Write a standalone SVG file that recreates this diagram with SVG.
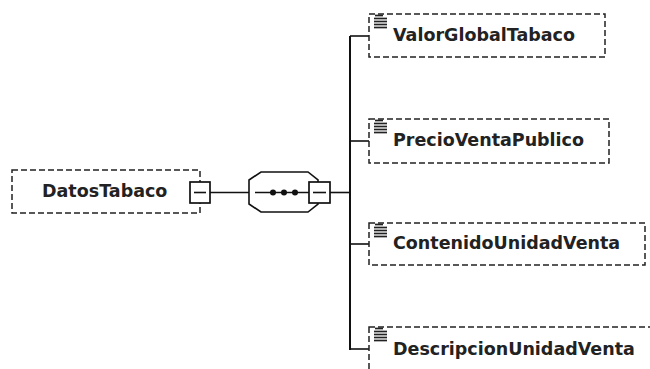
<svg xmlns="http://www.w3.org/2000/svg" width="650" height="369" viewBox="0 0 650 369">
<style>
.box{fill:#fff;stroke:#222;stroke-width:1.5;stroke-dasharray:6 3}
.lbl{font-family:"DejaVu Sans",Verdana,sans-serif;font-weight:bold;font-size:17.5px;fill:#222}
.ln{stroke:#111;stroke-width:1.6;fill:none}
.bus{stroke:#111;stroke-width:2;fill:none}
.mb{fill:#fff;stroke:#111;stroke-width:1.7}
.ico{stroke:#222;stroke-width:1.7}
</style>
<defs>
<g id="icon">
<line class="ico" x1="375" y1="15.5" x2="383" y2="15.5"/>
<line class="ico" x1="374" y1="18.5" x2="387" y2="18.5"/>
<line class="ico" x1="374" y1="21.5" x2="387" y2="21.5"/>
<line class="ico" x1="374" y1="24.5" x2="387" y2="24.5"/>
<line class="ico" x1="374" y1="27.5" x2="387" y2="27.5"/>
</g>
</defs>
<g id="connectors">
<line class="ln" x1="210" y1="192.5" x2="249" y2="192.5"/>
<line class="ln" x1="330" y1="192.5" x2="350" y2="192.5"/>
<line class="bus" x1="350" y1="36" x2="350" y2="350"/>
<line class="ln" x1="350" y1="36" x2="369" y2="36"/>
<line class="ln" x1="350" y1="141" x2="369" y2="141"/>
<line class="ln" x1="350" y1="244" x2="369" y2="244"/>
<line class="ln" x1="350" y1="349" x2="369" y2="349"/>
</g>
<g id="DatosTabaco">
<rect class="box" x="12" y="170" width="188" height="43"/>
<text class="lbl" x="42" y="197">DatosTabaco</text>
<rect class="mb" x="190" y="182" width="20" height="21"/>
<line class="ln" x1="194" y1="192.5" x2="206" y2="192.5"/>
</g>
<g id="sequence">
<polygon class="ln" style="fill:#fff" points="249,180 261,172 308,172 318,180 318,204 308,212 261,212 249,204"/>
<line class="ln" x1="255" y1="192.5" x2="309" y2="192.5"/>
<circle cx="273" cy="192.5" r="3" fill="#111"/>
<circle cx="284" cy="192.5" r="3" fill="#111"/>
<circle cx="295" cy="192.5" r="3" fill="#111"/>
<rect class="mb" x="309" y="182" width="21" height="21"/>
<line class="ln" x1="313" y1="192.5" x2="326" y2="192.5"/>
</g>
<g id="ValorGlobalTabaco">
<rect class="box" x="369" y="14" width="236" height="43"/>
<use href="#icon"/>
<text class="lbl" x="393" y="41">ValorGlobalTabaco</text>
</g>
<g id="PrecioVentaPublico">
<rect class="box" x="369" y="119" width="240" height="44"/>
<use href="#icon" transform="translate(0,105)"/>
<text class="lbl" x="393" y="146">PrecioVentaPublico</text>
</g>
<g id="ContenidoUnidadVenta">
<rect class="box" x="369" y="223" width="276" height="42"/>
<use href="#icon" transform="translate(0,209)"/>
<text class="lbl" x="393" y="249">ContenidoUnidadVenta</text>
</g>
<g id="DescripcionUnidadVenta">
<rect class="box" x="369" y="327" width="300" height="45"/>
<use href="#icon" transform="translate(0,313)"/>
<text class="lbl" x="393" y="355">DescripcionUnidadVenta</text>
</g>
</svg>
